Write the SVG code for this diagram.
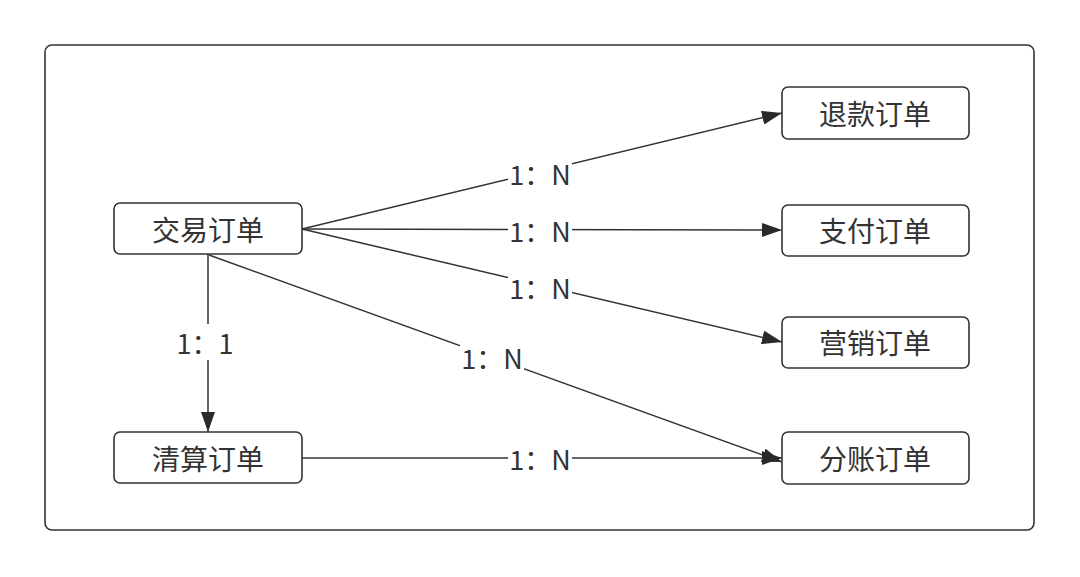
<svg xmlns="http://www.w3.org/2000/svg" width="1080" height="577" viewBox="0 0 1080 577">
<defs>
<marker id="arr" viewBox="0 0 20 14" markerWidth="20" markerHeight="14" refX="20" refY="7" orient="auto" markerUnits="userSpaceOnUse">
<path d="M0,0 L20,7 L0,14 z" fill="#2a2a2a"/>
</marker>
<style>
.node rect{fill:#fff;stroke:#333;stroke-width:1.6}
.node text{font-family:"Noto Sans CJK SC","Noto Sans",sans-serif;font-size:28px;fill:#333;text-anchor:middle;dominant-baseline:central}
.edge{fill:none;stroke:#333;stroke-width:1.5}
.lbl rect{fill:#fff}
.lbl text{font-family:"Noto Sans CJK SC","Noto Sans",sans-serif;font-size:27px;fill:#333;text-anchor:middle;dominant-baseline:central}
</style>
</defs>
<rect width="1080" height="577" fill="#fff"/>
<rect x="45" y="45" width="989" height="485" rx="7" fill="#fff" stroke="#333" stroke-width="1.6"/>
<g id="connectors">
<line class="edge" x1="302" y1="229" x2="782" y2="113" marker-end="url(#arr)"/>
<line class="edge" x1="302" y1="229" x2="782" y2="230" marker-end="url(#arr)"/>
<line class="edge" x1="302" y1="229" x2="782" y2="342" marker-end="url(#arr)"/>
<line class="edge" x1="209" y1="255" x2="782" y2="462" marker-end="url(#arr)"/>
<line class="edge" x1="208" y1="254" x2="208" y2="432" marker-end="url(#arr)"/>
<line class="edge" x1="302" y1="458" x2="782" y2="458" marker-end="url(#arr)"/>
<g class="lbl"><rect x="508" y="157" width="64" height="32"/><text x="540" y="173">1：N</text></g>
<g class="lbl"><rect x="508" y="214" width="64" height="32"/><text x="540" y="230">1：N</text></g>
<g class="lbl"><rect x="508" y="271" width="64" height="32"/><text x="540" y="287">1：N</text></g>
<g class="lbl"><rect x="460" y="341" width="64" height="32"/><text x="492" y="357">1：N</text></g>
<g class="lbl"><rect x="172" y="324" width="66" height="36"/><text x="205" y="342">1：1</text></g>
<g class="lbl"><rect x="508" y="442" width="64" height="32"/><text x="540" y="458">1：N</text></g>
</g>
<g id="n_jiaoyi" class="node"><rect x="114" y="203" width="188" height="51" rx="6"/><text x="208" y="229">交易订单</text></g>
<g id="n_qingsuan" class="node"><rect x="114" y="432" width="188" height="51" rx="6"/><text x="208" y="458">清算订单</text></g>
<g id="n_tuikuan" class="node"><rect x="782" y="87" width="187" height="52" rx="6"/><text x="875" y="113">退款订单</text></g>
<g id="n_zhifu" class="node"><rect x="782" y="205" width="187" height="51" rx="6"/><text x="875" y="230">支付订单</text></g>
<g id="n_yingxiao" class="node"><rect x="782" y="317" width="187" height="51" rx="6"/><text x="875" y="342">营销订单</text></g>
<g id="n_fenzhang" class="node"><rect x="782" y="432" width="187" height="52" rx="6"/><text x="875" y="458">分账订单</text></g>
</svg>
